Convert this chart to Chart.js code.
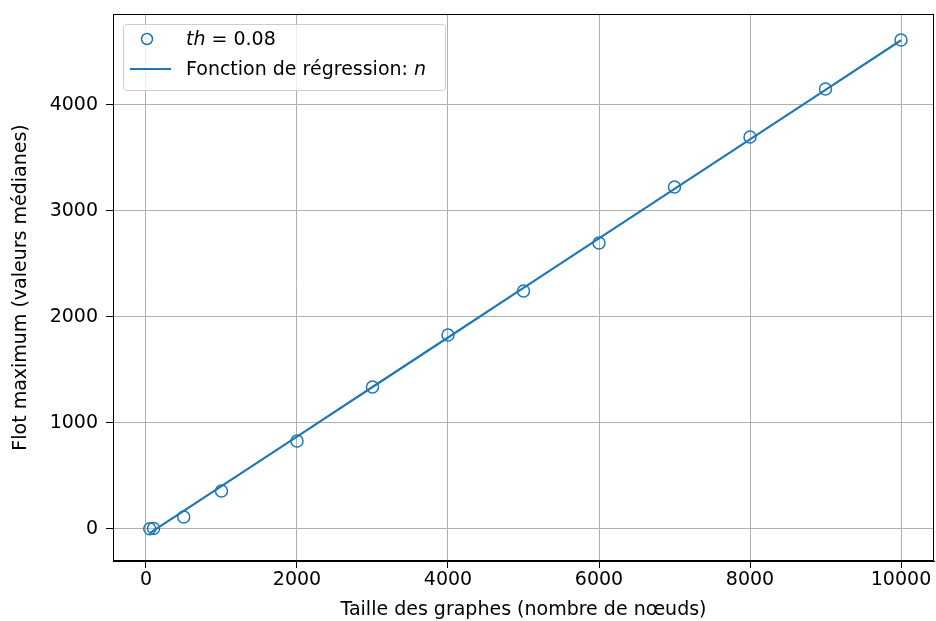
<!DOCTYPE html>
<html>
<head>
<meta charset="utf-8">
<script src="https://cdn.jsdelivr.net/npm/chart.js@4/dist/chart.umd.min.js"></script>
<style>
  html, body { margin: 0; padding: 0; background: #fff; }
  #wrap { width: 936px; height: 621px; }
</style>
</head>
<body>
<div id="wrap"><canvas id="chart"></canvas></div>
<script>
// data
const graphSizes   = [50, 100, 500, 1000, 2000, 3000, 4000, 5000, 6000, 7000, 8000, 9000, 10000];
const flowMedian   = [3, 5, 113, 358, 830, 1340, 1830, 2245, 2698, 3226, 3698, 4151, 4613];
const regressionN  = [-40, -16, 171, 404, 871, 1339, 1806, 2274, 2741, 3208, 3675, 4143, 4610];
const xTicks = [0, 2000, 4000, 6000, 8000, 10000];
const yTicks = [0, 1000, 2000, 3000, 4000];

const BLUE = '#1f77b4';
const FONT = '"DejaVu Sans", sans-serif';
const FS = 19;

const pts  = graphSizes.map((x, i) => ({ x, y: flowMedian[i] }));
const line = graphSizes.map((x, i) => ({ x, y: regressionN[i] }));

// frame + legend drawn on top, matplotlib style
const framePlugin = {
  id: 'frame',
  afterDraw(chart) {
    const { ctx, chartArea: a } = chart;
    ctx.save();
    ctx.strokeStyle = '#000';
    ctx.lineWidth = 1;
    ctx.strokeRect(a.left + 0.5, a.top + 0.5, a.right - a.left - 1, a.bottom - a.top - 1);

    // legend box
    const bx = 123, by = 24, bw = 322, bh = 66;
    ctx.fillStyle = 'rgba(255,255,255,0.8)';
    ctx.strokeStyle = '#cccccc';
    ctx.beginPath();
    ctx.roundRect(bx + 0.5, by + 0.5, bw, bh, 3);
    ctx.fill();
    ctx.stroke();

    // row 1 marker
    ctx.strokeStyle = BLUE;
    ctx.lineWidth = 1.5;
    ctx.beginPath();
    ctx.arc(147, 39, 5.5, 0, Math.PI * 2);
    ctx.stroke();
    // row 2 line sample
    ctx.lineWidth = 2;
    ctx.beginPath();
    ctx.moveTo(130, 69);
    ctx.lineTo(171, 69);
    ctx.stroke();

    ctx.fillStyle = '#000';
    ctx.textBaseline = 'middle';
    ctx.textAlign = 'left';
    let x = 186;
    ctx.font = 'italic ' + FS + 'px ' + FONT;
    ctx.fillText('th', x, 40);
    x += ctx.measureText('th').width;
    ctx.font = FS + 'px ' + FONT;
    ctx.fillText(' = 0.08', x, 40);

    x = 186;
    ctx.fillText('Fonction de régression: ', x, 70);
    x += ctx.measureText('Fonction de régression: ').width;
    ctx.font = 'italic ' + FS + 'px ' + FONT;
    ctx.fillText('n', x, 70);
    ctx.restore();
  }
};

new Chart(document.getElementById('chart'), {
  type: 'scatter',
  data: {
    datasets: [{
      label: 'th = 0.08',
      data: pts,
      showLine: false,
      pointRadius: 6,
      pointHoverRadius: 6,
      pointBorderWidth: 1.5,
      pointBorderColor: BLUE,
      pointBackgroundColor: 'rgba(0,0,0,0)',
      order: 1
    }, {
      label: 'Fonction de régression: n',
      data: line,
      showLine: true,
      borderColor: BLUE,
      borderWidth: 2.2,
      pointRadius: 0,
      fill: false,
      order: 2
    }]
  },
  options: {
    responsive: true,
    maintainAspectRatio: false,
    animation: false,
    layout: { autoPadding: false, padding: { left: 0, right: 2, top: 14, bottom: 0 } },
    plugins: { legend: { display: false }, tooltip: { enabled: false } },
    scales: {
      x: {
        type: 'linear',
        min: -437, max: 10437,
        afterBuildTicks: s => { s.ticks = xTicks.map(v => ({ value: v })); },
        afterFit: s => { s.height = 60; s.paddingLeft = 0; s.paddingRight = 0; },
        grid: { color: '#b0b0b0', lineWidth: 1, tickColor: '#000', tickLength: 7 },
        border: { color: '#000', width: 1 },
        ticks: { color: '#000', font: { family: FONT, size: FS }, padding: 1, maxRotation: 0,
                 callback: v => String(v) },
        title: { display: true, text: 'Taille des graphes (nombre de nœuds)', color: '#000',
                 font: { family: FONT, size: FS }, padding: { top: 0, bottom: 0 } }
      },
      y: {
        type: 'linear',
        min: -302, max: 4858,
        afterBuildTicks: s => { s.ticks = yTicks.map(v => ({ value: v })); },
        afterFit: s => { s.width = 113; s.paddingTop = 0; s.paddingBottom = 0; },
        grid: { color: '#b0b0b0', lineWidth: 1, tickColor: '#000', tickLength: 7 },
        border: { color: '#000', width: 1 },
        ticks: { color: '#000', font: { family: FONT, size: FS }, padding: 8,
                 callback: v => String(v) },
        title: { display: true, text: 'Flot maximum (valeurs médianes)', color: '#000',
                 font: { family: FONT, size: FS }, padding: { top: 10, bottom: 0 } }
      }
    }
  },
  plugins: [framePlugin]
});
</script>
</body>
</html>
